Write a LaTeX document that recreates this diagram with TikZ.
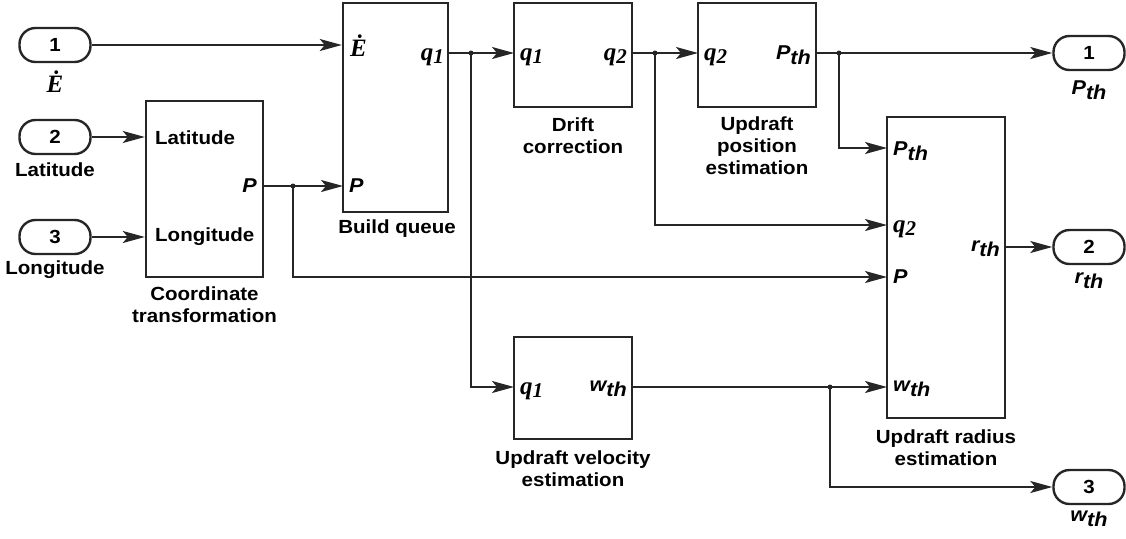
\documentclass[tikz,border=0pt]{standalone}
\usepackage{fontspec}
\usetikzlibrary{arrows.meta}
\newfontfamily\hv[FakeStretch=1.08]{Liberation Sans}
\newfontfamily\tms{Liberation Serif}
\newcommand\hvsub[2]{{\hv\bfseries\itshape #1\raisebox{-0.45ex}{#2}}}
\newcommand\qsub[2]{{\tms\bfseries\itshape #1\raisebox{-0.3ex}{\fontsize{21}{21}\selectfont #2}}}
\tikzset{
  blk/.style={draw=black!85, line width=2.4pt, inner sep=0pt},
  pill/.style={draw=black!85, line width=2.4pt, rounded corners=16pt, minimum width=71pt, minimum height=34pt, inner sep=0pt, font=\hv\bfseries\fontsize{19}{20}\selectfont},
  wire/.style={line width=1.8pt, draw=black!85},
  arr/.style={wire, -{Stealth[length=22pt,width=12pt,inset=5pt]}},
  jdot/.style={circle, fill=black!85, inner sep=0pt, minimum size=5pt},
  txt/.style={font=\hv\bfseries\fontsize{19}{22}\selectfont, inner sep=0pt, align=center},
  ptxt/.style={font=\hv\bfseries\itshape\fontsize{20}{20}\selectfont, inner sep=0pt},
  stxt/.style={font=\tms\bfseries\itshape\fontsize{25}{25}\selectfont, inner sep=0pt},
}
\begin{document}
\begin{tikzpicture}[x=1pt,y=-1pt]
\useasboundingbox (0,0) rectangle (1126,538);
% blocks
\node[blk, minimum width=117pt, minimum height=176pt] (ct) at (204.5,189) {};
\node[blk, minimum width=105pt, minimum height=209pt] (bq) at (395.5,107.5) {};
\node[blk, minimum width=118pt, minimum height=104pt] (dc) at (573,55) {};
\node[blk, minimum width=118pt, minimum height=104pt] (pe) at (757,55) {};
\node[blk, minimum width=118pt, minimum height=301pt] (re) at (946,267.5) {};
\node[blk, minimum width=118pt, minimum height=102pt] (ve) at (573,388) {};
% terminals
\node[pill] (in1) at (55,45) {1};
\node[pill] (in2) at (55,137) {2};
\node[pill] (in3) at (55,237) {3};
\node[pill] (out1) at (1089,53) {1};
\node[pill] (out2) at (1089,247) {2};
\node[pill] (out3) at (1089,487) {3};
% terminal labels
\node[stxt] (lin1) at (55,82) {Ė};
\node[txt] (lin2) at (55,170) {Latitude};
\node[txt] (lin3) at (55,270) {Longitude};
\node[ptxt] (lout1) at (1089,90) {\hvsub{P}{th}};
\node[ptxt] (lout2) at (1089,281) {\hvsub{r}{th}};
\node[ptxt] (lout3) at (1089,519) {\hvsub{w}{th}};
% captions
\node[txt] (cct) at (204.5,305) {Coordinate\\transformation};
\node[txt] (cbq) at (397,229) {Build queue};
\node[txt] (cdc) at (573,136) {Drift\\correction};
\node[txt] (cpe) at (757,146) {Updraft\\position\\estimation};
\node[txt] (cre) at (946,448) {Updraft radius\\estimation};
\node[txt] (cve) at (573,469) {Updraft velocity\\estimation};
% port labels
\node[txt, anchor=west] (ctlat) at (155,138) {Latitude};
\node[txt, anchor=west] (ctlon) at (155,237) {Longitude};
\node[ptxt, anchor=east] (ctp) at (257,186) {P};
\node[stxt, anchor=west] (bqe) at (350,46) {Ė};
\node[stxt, anchor=east] (bqq) at (444,57) {\qsub{q}{1}};
\node[ptxt, anchor=west] (bqp) at (349,186) {P};
\node[stxt, anchor=west] (dcq1) at (520,57) {\qsub{q}{1}};
\node[stxt, anchor=east] (dcq2) at (627,57) {\qsub{q}{2}};
\node[stxt, anchor=west] (peq2) at (704,57) {\qsub{q}{2}};
\node[ptxt, anchor=east] (pep) at (811,55) {\hvsub{P}{th}};
\node[ptxt, anchor=west] (rep) at (893,151) {\hvsub{P}{th}};
\node[stxt, anchor=west] (req) at (893,229) {\qsub{q}{2}};
\node[ptxt, anchor=west] (rePP) at (893,277) {P};
\node[ptxt, anchor=west] (rew) at (893,389) {\hvsub{w}{th}};
\node[ptxt, anchor=east] (rer) at (1000,249) {\hvsub{r}{th}};
\node[stxt, anchor=west] (veq) at (520,391) {\qsub{q}{1}};
\node[ptxt, anchor=east] (vew) at (627,389) {\hvsub{w}{th}};
% port coordinates
\coordinate (ctO) at (263,186);
\coordinate (bqP) at (343,186);
\coordinate (bqO) at (448,53);
\coordinate (dcI) at (514,53);
\coordinate (dcO) at (632,53);
\coordinate (peI) at (698,53);
\coordinate (peO) at (816,53);
\coordinate (reP1) at (887,148);
\coordinate (reQ) at (887,225);
\coordinate (reP) at (887,277);
\coordinate (reW) at (887,387);
\coordinate (reO) at (1005,247);
\coordinate (veI) at (514,387);
\coordinate (veO) at (632,387);
% junctions
\node[jdot] (j1) at (293,186) {};
\node[jdot] (j2) at (471,53) {};
\node[jdot] (j3) at (655,53) {};
\node[jdot] (j4) at (839,53) {};
\node[jdot] (j5) at (830,387) {};
% connectors
\draw[arr] (in1.east) -- (bq.west |- in1.east);
\draw[arr] (in2.east) -- (ct.west |- in2.east);
\draw[arr] (in3.east) -- (ct.west |- in3.east);
\draw[arr] (ctO) -- (bqP);
\draw[arr] (j1.center) |- (reP);
\draw[arr] (bqO) -- (dcI);
\draw[arr] (j2.center) |- (veI);
\draw[arr] (dcO) -- (peI);
\draw[arr] (j3.center) |- (reQ);
\draw[arr] (peO) -- (out1.west);
\draw[arr] (j4.center) |- (reP1);
\draw[arr] (reO) -- (out2.west);
\draw[arr] (veO) -- (reW);
\draw[arr] (j5.center) |- (out3.west);
\end{tikzpicture}
\end{document}
